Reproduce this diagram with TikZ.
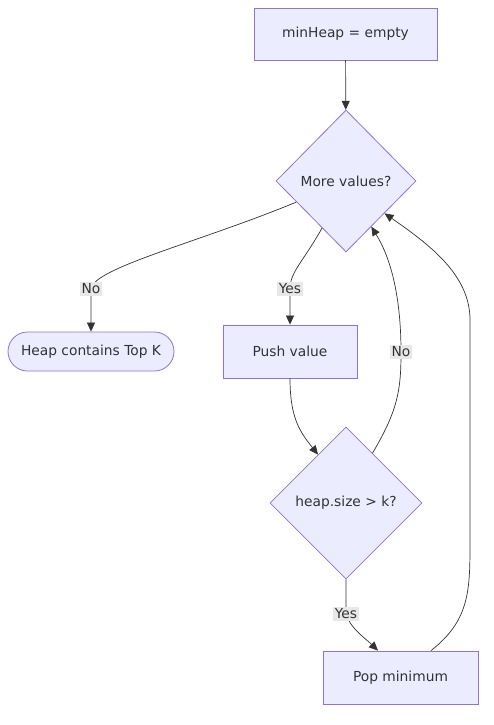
\documentclass[tikz,border=0pt]{standalone}
\usepackage{fontspec}
\setmainfont{DejaVu Sans}
\usetikzlibrary{shapes.geometric,arrows.meta,calc}
\definecolor{nodefill}{HTML}{ECECFF}
\definecolor{nodeline}{HTML}{9370DB}
\definecolor{edgecol}{HTML}{333333}
\definecolor{lblbg}{HTML}{E8E8E8}
\begin{document}
\begin{tikzpicture}[x=1pt,y=-1pt,
  every node/.style={font=\fontsize{13.8}{16}\selectfont, text=edgecol},
  box/.style={draw=nodeline, fill=nodefill, line width=0.8pt, rectangle, inner sep=0pt},
  dia/.style={draw=nodeline, fill=nodefill, line width=0.8pt, diamond, inner sep=0pt},
  edge/.style={draw=edgecol, line width=0.7pt, -{Triangle[length=9pt,width=8pt]}},
  lbl/.style={fill=lblbg, inner sep=2pt}
]
\useasboundingbox (0,0) rectangle (494,725);
\node[box, minimum width=183pt, minimum height=52pt] (init) at (345.5,34) {minHeap = empty};
\node[dia, minimum width=140pt, minimum height=142pt] (more) at (346,181) {More values?};
\node[box, minimum width=166pt, minimum height=39pt, rounded corners=19.5pt] (heap) at (91,351.5) {Heap contains Top K};
\node[box, minimum width=134pt, minimum height=53pt] (push) at (290,351.5) {Push value};
\node[dia, minimum width=152pt, minimum height=152pt] (size) at (346,503) {heap.size > k?};
\node[box, minimum width=155pt, minimum height=53pt] (pop) at (400.5,677.5) {Pop minimum};
\coordinate (noL) at (91,289);
\coordinate (yesL) at (290,289);
\coordinate (noR) at (401,352);
\coordinate (yesB) at (346,614);

\draw[edge] (init) -- (more);
\draw[edge] (more.203) .. controls (200,242) and (93,268) .. (noL) node[lbl] {No} -- (heap.north);
\draw[edge] (more.243) .. controls (303,262) and (290,272) .. (yesL) node[lbl] {Yes} -- (push.north);
\draw[edge] (push.south) .. controls (290,418) and (300,432) .. (size.120);
\draw[edge] (size.62) .. controls (398,410) and (401,390) .. (noR) node[lbl] {No}
  .. controls (401,300) and (392,260) .. (more.299);
\draw[edge] (size.south) .. controls (346,600) and (346,605) .. (yesB) node[lbl] {Yes} .. controls (350,628) and (365,638) .. ([xshift=-22.5pt]pop.north);
\draw[edge] ([xshift=30.5pt]pop.north) .. controls (470,620) and (470,590) .. (470,540)
  -- (470,320) .. controls (470,275) and (430,245) .. (more.320);
\end{tikzpicture}
\end{document}
